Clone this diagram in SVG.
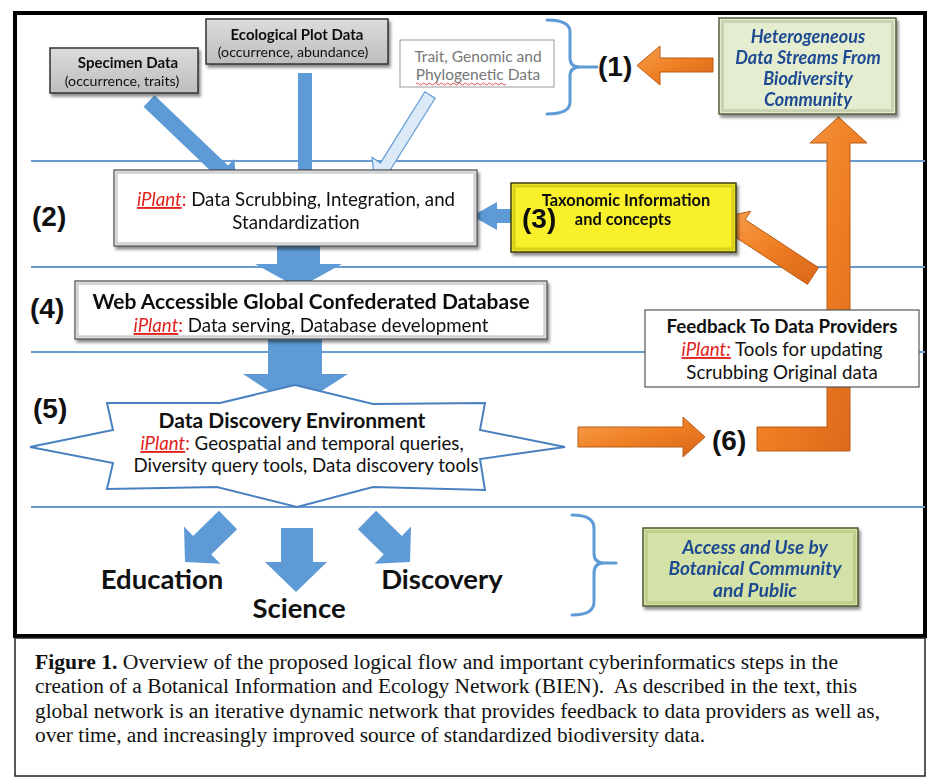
<svg xmlns="http://www.w3.org/2000/svg" width="932" height="777" viewBox="0 0 932 777">
<defs>
  <style>
    .sans{font-family:Lato,"Open Sans","Liberation Sans",sans-serif;}
    .num{font-family:"Liberation Sans",Arial,sans-serif;font-weight:bold;font-size:28px;fill:#111;}
    .red{fill:#e0221c;font-style:italic;text-decoration:underline;}
    .blueA{fill:#5e9bd6;}
    .orangeA{fill:url(#og);stroke:#b85c18;stroke-width:1;}
    .hline{stroke:#6a9bd0;stroke-width:2;}
    .brace{fill:none;stroke:#5e9bd6;stroke-width:3;stroke-linecap:round;}
    .green{fill:#1f4b92;font-style:italic;font-weight:bold;}
  </style>
  <linearGradient id="og" x1="0" y1="0" x2="1" y2="1">
    <stop offset="0" stop-color="#f7a04d"/>
    <stop offset="0.5" stop-color="#ef7f24"/>
    <stop offset="1" stop-color="#d8661a"/>
  </linearGradient>
  <linearGradient id="grayg" x1="0" y1="0" x2="0" y2="1">
    <stop offset="0" stop-color="#dcdcdc"/>
    <stop offset="1" stop-color="#bdbdbd"/>
  </linearGradient>
  <filter id="sh" x="-10%" y="-10%" width="130%" height="140%">
    <feDropShadow dx="2" dy="3" stdDeviation="1.5" flood-color="#000" flood-opacity="0.45"/>
  </filter>
</defs>

<rect x="0" y="0" width="932" height="777" fill="#fff"/>

<!-- frame and caption box -->
<rect x="15" y="13" width="910" height="623" fill="none" stroke="#000" stroke-width="4"/>
<rect x="15" y="638" width="910" height="138" fill="none" stroke="#222" stroke-width="1.5"/>

<!-- horizontal lines -->
<g id="lines">
  <line class="hline" x1="31" y1="161" x2="925" y2="161"/>
  <line class="hline" x1="31" y1="267" x2="925" y2="267"/>
  <line class="hline" x1="31" y1="352" x2="925" y2="352"/>
  <line class="hline" x1="31" y1="507" x2="925" y2="507"/>
</g>

<!-- connectors -->
<g id="connectors">
  <polygon class="blueA" points="143.5,106.8 217,177 210.8,183.5 237,185 234.2,158.9 228,165.4 154.5,95.2"/>
  <polygon class="blueA" points="298,73 312,73 312,172 320,172 305,189 291,172 298,172"/>
  <polygon fill="#dce9f6" stroke="#5e9bd6" stroke-width="1.2" points="424.9,91.8 380.5,162.8 372,157.5 375,183 399.2,174.5 390.7,169.2 435.1,98.2"/>
  <polygon class="blueA" points="512,209 497,209 497,202 472,216 497,230 497,223 512,223"/>
  <polygon class="blueA" points="277,246 320,246 320,264 342,264 298.5,288 255,264 277,264"/>
  <polygon class="blueA" points="268,339 322,339 322,374 348,374 295,408 243,374 268,374"/>
  <polygon class="blueA" points="237.1,529.3 211.3,554.5 220.4,563.8 185,562 184,526.6 193.1,535.9 218.9,510.7"/>
  <polygon class="blueA" points="281,528 313,528 313,562 327,562 296,592 265,562 281,562"/>
  <polygon class="blueA" points="357.9,529.3 383.7,554.5 374.6,563.8 410,562 411,526.6 401.9,535.9 376.1,510.7"/>
  <polygon class="orangeA" points="713,58 660,58 660,46 637,65.5 660,85 660,72 713,72"/>
  <polygon class="orangeA" points="578,427 683,427 683,417 705,437 683,457 683,447 578,447"/>
  <polygon class="orangeA" points="757,427 827,427 827,143 810,143 838.5,117 867,143 850,143 850,451 757,451"/>
  <polygon class="orangeA" points="818.5,267.6 745.2,219.6 750.7,211.3 723,217 728.7,244.7 734.2,236.4 807.5,284.4"/>
  <path class="brace" d="M547,20 Q570,20 570,32 L570,58 Q570,67 580,67 L597,67 M580,67 Q570,67 570,76 L570,102 Q570,114 547,114"/>
  <path class="brace" d="M572,515 Q594,515 594,528 L594,553 Q594,563 604,563 L616,563 M604,563 Q594,563 594,573 L594,602 Q594,615 572,615"/>
</g>

<!-- nodes -->
<g id="specimen" filter="url(#sh)">
  <rect x="50" y="48" width="148" height="45" fill="url(#grayg)" stroke="#333" stroke-width="1.5"/>
  <text class="sans" x="128" y="68" text-anchor="middle" font-size="15" font-weight="bold" fill="#111">Specimen Data</text>
  <text class="sans" x="122" y="86" text-anchor="middle" font-size="14.2" fill="#111">(occurrence, traits)</text>
</g>

<g id="ecological" filter="url(#sh)">
  <rect x="206" y="19" width="182" height="45" fill="url(#grayg)" stroke="#333" stroke-width="1.5"/>
  <text class="sans" x="297" y="40" text-anchor="middle" font-size="15" font-weight="bold" fill="#111">Ecological Plot Data</text>
  <text class="sans" x="293" y="57" text-anchor="middle" font-size="14.2" fill="#111">(occurrence, abundance)</text>
</g>

<g id="trait">
  <rect x="400" y="40" width="154" height="47" fill="#fff" stroke="#999" stroke-width="1"/>
  <text class="sans" x="478" y="62" text-anchor="middle" font-size="15.5" fill="#777">Trait, Genomic and</text>
  <text class="sans" x="478" y="80" text-anchor="middle" font-size="15.5" fill="#777">Phylogenetic Data</text>
  <path d="M416,84 q1.5,-2 3,0 t3,0 t3,0 t3,0 t3,0 t3,0 t3,0 t3,0 t3,0 t3,0 t3,0 t3,0 t3,0 t3,0 t3,0 t3,0 t3,0 t3,0 t3,0 t3,0 t3,0 t3,0 t3,0 t3,0 t3,0 t3,0 t3,0 t3,0 t3,0 t3,0" fill="none" stroke="#e0221c" stroke-width="0.8"/>
</g>

<g id="label1"><text class="num" x="598" y="76">(1)</text></g>

<g id="heterogeneous" filter="url(#sh)">
  <rect x="719" y="18" width="177" height="96" fill="#e5edd1" stroke="#55603f" stroke-width="1.5"/>
  <rect x="722.5" y="21.5" width="170" height="89" fill="none" stroke="#c9d3b2" stroke-width="3"/>
  <text class="sans green" x="808" y="43" text-anchor="middle" font-size="18">Heterogeneous</text>
  <text class="sans green" x="808" y="64" text-anchor="middle" font-size="18">Data Streams From</text>
  <text class="sans green" x="808" y="85" text-anchor="middle" font-size="18">Biodiversity</text>
  <text class="sans green" x="808" y="106" text-anchor="middle" font-size="18">Community</text>
</g>

<g id="label2"><text class="num" x="32" y="226">(2)</text></g>

<g id="scrubbing" filter="url(#sh)">
  <rect x="114" y="170" width="363" height="76" fill="#fff" stroke="#444" stroke-width="1.2"/>
  <rect x="116.5" y="172.5" width="358" height="71" fill="none" stroke="#d0d0d0" stroke-width="2.5"/>
  <text class="sans" x="296" y="206" text-anchor="middle" font-size="18.7" fill="#111"><tspan class="red">iPlant</tspan><tspan fill="#e0221c">:</tspan> Data Scrubbing, Integration, and</text>
  <text class="sans" x="296" y="229" text-anchor="middle" font-size="18.7" fill="#111">Standardization</text>
</g>

<g id="taxonomic" filter="url(#sh)">
  <rect x="511" y="183" width="225" height="69" fill="#f8f02a" stroke="#3a3a10" stroke-width="1.5"/>
  <rect x="514" y="186" width="219" height="63" fill="none" stroke="#d8cf1e" stroke-width="3"/>
  <text class="sans" x="626" y="206" text-anchor="middle" font-size="16.4" font-weight="bold" fill="#111">Taxonomic Information</text>
  <text class="sans" x="623" y="225" text-anchor="middle" font-size="16.4" font-weight="bold" fill="#111">and concepts</text>
  <text class="num" x="522" y="228">(3)</text>
</g>

<g id="label4"><text class="num" x="30" y="318">(4)</text></g>

<g id="webdb" filter="url(#sh)">
  <rect x="75" y="281" width="472" height="58" fill="#fff" stroke="#444" stroke-width="1.2"/>
  <rect x="77.5" y="283.5" width="467" height="53" fill="none" stroke="#d0d0d0" stroke-width="2.5"/>
  <text class="sans" x="311" y="309" text-anchor="middle" font-size="21" font-weight="bold" fill="#111">Web Accessible Global Confederated Database</text>
  <text class="sans" x="311" y="332" text-anchor="middle" font-size="18.7" fill="#111"><tspan class="red">iPlant</tspan><tspan fill="#e0221c">:</tspan> Data serving, Database development</text>
</g>

<g id="feedback">
  <rect x="645" y="310" width="274" height="77" fill="#fff" stroke="#555" stroke-width="1.2"/>
  <text class="sans" x="782" y="333" text-anchor="middle" font-size="18.7" font-weight="bold" fill="#111">Feedback To Data Providers</text>
  <text class="sans" x="782" y="356" text-anchor="middle" font-size="18.7" fill="#111"><tspan class="red">iPlant:</tspan> Tools for updating</text>
  <text class="sans" x="782" y="379" text-anchor="middle" font-size="18.7" fill="#111">Scrubbing Original data</text>
</g>

<g id="label5"><text class="num" x="33" y="418">(5)</text></g>

<g id="dde">
  <polygon points="107,403 220,403 295,385 373,404 485,403 480,430 565,447 480,459 485,490 373,487 297,507 217,487 107,489 113,463 30,447 113,430" fill="#fff" stroke="#4a80c0" stroke-width="2"/>
  <text class="sans" x="292" y="428" text-anchor="middle" font-size="21" font-weight="bold" fill="#111">Data Discovery Environment</text>
  <text class="sans" x="302" y="450" text-anchor="middle" font-size="18.7" fill="#111"><tspan class="red">iPlant</tspan><tspan fill="#e0221c">:</tspan> Geospatial and temporal queries,</text>
  <text class="sans" x="306" y="472" text-anchor="middle" font-size="18.7" fill="#111">Diversity query tools, Data discovery tools</text>
</g>

<g id="label6"><text class="num" x="712" y="450">(6)</text></g>

<g id="education"><text class="sans" x="162" y="589" text-anchor="middle" font-size="27.5" font-weight="bold" fill="#111">Education</text></g>
<g id="science"><text class="sans" x="299" y="618" text-anchor="middle" font-size="27.5" font-weight="bold" fill="#111">Science</text></g>
<g id="discovery"><text class="sans" x="442" y="589" text-anchor="middle" font-size="27.5" font-weight="bold" fill="#111">Discovery</text></g>

<g id="access" filter="url(#sh)">
  <rect x="643" y="528" width="215" height="78" fill="#d5e2a7" stroke="#4f5a30" stroke-width="1.5"/>
  <rect x="646.5" y="531.5" width="208" height="71" fill="none" stroke="#c0cf8e" stroke-width="3"/>
  <text class="sans green" x="755" y="554" text-anchor="middle" font-size="19">Access and Use by</text>
  <text class="sans green" x="755" y="575" text-anchor="middle" font-size="19">Botanical Community</text>
  <text class="sans green" x="755" y="597" text-anchor="middle" font-size="19">and Public</text>
</g>

<!-- caption -->
<g id="caption" font-family="'Liberation Serif','Times New Roman',serif" font-size="20" fill="#111">
  <text x="35" y="669" textLength="803" lengthAdjust="spacingAndGlyphs"><tspan font-weight="bold">Figure 1.</tspan> Overview of the proposed logical flow and important cyberinformatics steps in the</text>
  <text x="35" y="693" textLength="822" lengthAdjust="spacingAndGlyphs">creation of a Botanical Information and Ecology Network (BIEN).&#160; As described in the text, this</text>
  <text x="35" y="718" textLength="845" lengthAdjust="spacingAndGlyphs">global network is an iterative dynamic network that provides feedback to data providers as well as,</text>
  <text x="35" y="742" textLength="670" lengthAdjust="spacingAndGlyphs">over time, and increasingly improved source of standardized biodiversity data.</text>
</g>
</svg>
